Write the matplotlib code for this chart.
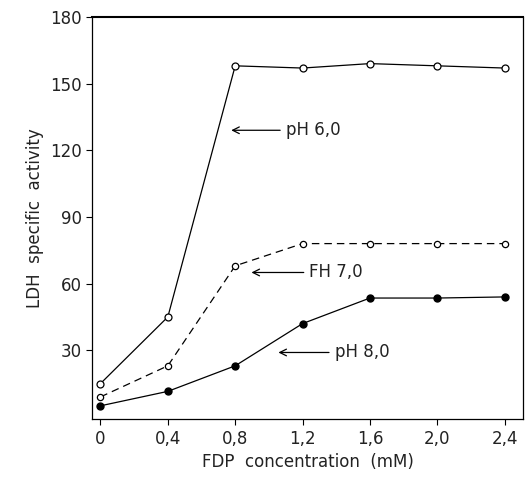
import matplotlib.pyplot as plt

# FDP concentration (mM)
fdp = [0, 0.4, 0.8, 1.2, 1.6, 2.0, 2.4]

# LDH specific activity at each pH
ph6 = [15, 45, 158, 157, 159, 158, 157]
ph7 = [9, 23, 68, 78, 78, 78, 78]
ph8 = [5, 11.5, 23, 42, 53.5, 53.5, 54]

xtick_labels = ['0', '0,4', '0,8', '1,2', '1,6', '2,0', '2,4']
yticks = [30, 60, 90, 120, 150, 180]

fig = plt.figure(figsize=(5.29, 4.84), dpi=100)
ax = fig.add_axes([0.174, 0.134, 0.815, 0.831])

# plotting the three curves
ax.plot(fdp, ph6, c='black', linewidth=0.9, marker='o', markersize=5,
        markerfacecolor='white', markeredgewidth=0.9)
ax.plot(fdp, ph7, c='black', linewidth=0.9, linestyle=(0, (6, 4)), marker='o',
        markersize=4.5, markerfacecolor='white', markeredgewidth=0.9)
ax.plot(fdp, ph8, c='black', linewidth=0.9, marker='o', markersize=5,
        markerfacecolor='black')

# arrow labels
arrow = dict(arrowstyle='->', color='black', linewidth=0.9)
ax.annotate('pH 6,0', xy=(0.76, 129), xytext=(1.10, 129), va='center',
            fontsize=12, color='#222222', arrowprops=arrow)
ax.annotate('FH 7,0', xy=(0.88, 65), xytext=(1.24, 65), va='center',
            fontsize=12, color='#222222', arrowprops=arrow)
ax.annotate('pH 8,0', xy=(1.04, 29), xytext=(1.39, 29), va='center',
            fontsize=12, color='#222222', arrowprops=arrow)

ax.set_xlim(-0.05, 2.51)
ax.set_ylim(-1, 180)
ax.set_xticks(fdp)
ax.set_xticklabels(xtick_labels)
ax.set_yticks(yticks)

ax.set_xlabel('FDP  concentration  (mM)', fontsize=12, color='#222222')
ax.set_ylabel('LDH  specific  activity', fontsize=12, color='#222222')
ax.tick_params(axis='both', labelsize=12, labelcolor='#222222', length=4, width=0.8)
for side in ['left', 'right', 'bottom']:
    ax.spines[side].set_linewidth(0.9)
ax.spines['top'].set_linewidth(1.5)

plt.savefig('out.png', dpi=100)
